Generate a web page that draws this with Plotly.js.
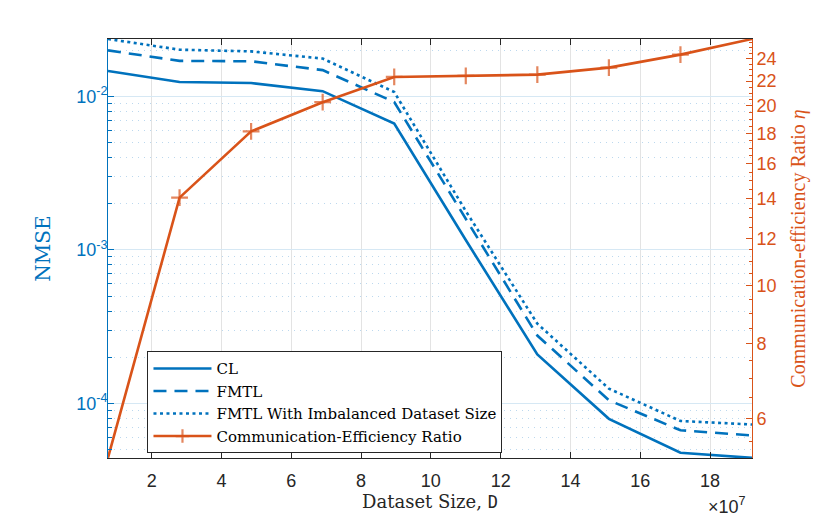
<!DOCTYPE html>
<html>
<head>
<meta charset="utf-8">
<script src="https://cdn.plot.ly/plotly-3.0.1.min.js"></script>
<style>
  html, body { margin: 0; padding: 0; background: #fff; }
  #chart { width: 830px; height: 522px; }
</style>
</head>
<body>
<div id="chart"></div>
<script>
// dataset size, in units of 1e7
const datasetSize = [0.75, 2.8, 4.85, 6.9, 8.95, 11, 13.05, 15.1, 17.15, 19.2];
const nmseCL = [0.0146, 0.0124, 0.0122, 0.0108, 0.00664, 0.00116, 2.09e-4, 7.95e-5, 4.78e-5, 4.43e-5];
const nmseFMTL = [0.0199, 0.0170, 0.0169, 0.0148, 0.00918, 0.00161, 2.77e-4, 1.05e-4, 6.7e-5, 6.2e-5];
const nmseFMTLImb = [0.0236, 0.0201, 0.0196, 0.0176, 0.01066, 0.00179, 3.31e-4, 1.25e-4, 7.7e-5, 7.3e-5];
const commRatio = [5.16, 14.05, 18.13, 20.29, 22.36, 22.45, 22.56, 23.18, 24.37, 25.88];

const xTicks = [2, 4, 6, 8, 10, 12, 14, 16, 18];
const leftTicks = [1e-4, 1e-3, 1e-2];
const leftTickText = ["10<sup>-4</sup>", "10<sup>-3</sup>", "10<sup>-2</sup>"];
const rightTicks = [6, 8, 10, 12, 14, 16, 18, 20, 22, 24];

const BLUE = "#0072BD";
const ORANGE = "#D95319";
const DARK = "#262626";
const SERIF = "'DejaVu Serif', serif";
const TIMES = "'Liberation Serif', serif";
const SANS = "'Liberation Sans', Arial, sans-serif";

// minor ticks for the log axes
const leftMinor = [];
[-5, -4, -3, -2].forEach((e) => {
  for (let k = 2; k <= 9; k++) leftMinor.push(k * Math.pow(10, e));
});
const rightMinor = [];
for (let v = 5; v <= 26; v += 0.5) if (!rightTicks.includes(v)) rightMinor.push(v);

const markerSizes = datasetSize.map((_, i) => (i === 0 || i === datasetSize.length - 1 ? 0 : 12));

const traces = [
  { x: datasetSize, y: nmseCL, name: "CL", type: "scatter", mode: "lines",
    line: { color: BLUE, width: 2.6 } },
  { x: datasetSize, y: nmseFMTL, name: "FMTL", type: "scatter", mode: "lines",
    line: { color: BLUE, width: 2.6, dash: "13px,8px" } },
  { x: datasetSize, y: nmseFMTLImb, name: "FMTL With Imbalanced Dataset Size", type: "scatter", mode: "lines",
    line: { color: BLUE, width: 2.6, dash: "3px,3.5px" } },
  { x: datasetSize, y: commRatio, name: "Communication-Efficiency Ratio", type: "scatter", mode: "lines+markers",
    yaxis: "y2",
    line: { color: ORANGE, width: 2.6 },
    marker: { symbol: "cross-thin-open", size: markerSizes, color: ORANGE, line: { color: ORANGE, width: 2.2 } } },
];

const layout = {
  width: 830,
  height: 522,
  margin: { l: 107.5, r: 78.3, t: 38.7, b: 64.3 },
  paper_bgcolor: "#fff",
  plot_bgcolor: "#fff",
  showlegend: true,
  legend: {
    x: 0.0613, y: 0.2547, xanchor: "left", yanchor: "top",
    bgcolor: "#fff", bordercolor: DARK, borderwidth: 1,
    font: { family: SERIF, size: 15, color: "#000" },
    itemwidth: 58,
    tracegroupgap: 0,
  },
  xaxis: {
    range: [0.75, 19.2],
    tickvals: xTicks,
    ticks: "inside", ticklen: 6, tickcolor: DARK,
    showline: true, linecolor: DARK, linewidth: 1, mirror: "ticks",
    showgrid: true, gridcolor: "#e3e3e3", gridwidth: 1,
    zeroline: false,
    tickfont: { family: SANS, size: 18, color: DARK },
    ticklabelstandoff: 6,
    title: { text: "Dataset Size, <span style=\"font-family:'DejaVu Sans Mono', monospace; font-size:17px\">D</span>",
      font: { family: SERIF, size: 18, color: DARK }, standoff: 2 },
  },
  yaxis: {
    type: "log",
    range: [Math.log10(4.42e-5), Math.log10(0.0236)],
    tickmode: "array", tickvals: leftTicks, ticktext: leftTickText,
    ticks: "inside", ticklen: 6, tickcolor: BLUE,
    showline: true, linecolor: BLUE, linewidth: 1,
    showgrid: true, gridcolor: "#d6e8f4", gridwidth: 1,
    zeroline: false,
    tickfont: { family: SANS, size: 18, color: BLUE },
    ticklabelstandoff: -4,
    minor: { tickmode: "array", tickvals: leftMinor, ticks: "inside", ticklen: 3.5, tickcolor: BLUE,
      showgrid: true, gridcolor: "#bcd8ee", griddash: "1px,5px", gridwidth: 1 },
    title: { text: "NMSE", font: { family: SERIF, size: 20, color: BLUE }, standoff: 20 },
  },
  yaxis2: {
    type: "log",
    overlaying: "y",
    side: "right",
    range: [Math.log10(5.155), Math.log10(25.88)],
    tickmode: "array", tickvals: rightTicks, ticktext: rightTicks.map(String),
    ticks: "inside", ticklen: 6, tickcolor: ORANGE,
    showline: true, linecolor: ORANGE, linewidth: 1,
    showgrid: false, zeroline: false,
    tickfont: { family: SANS, size: 18, color: ORANGE },
    minor: { tickmode: "array", tickvals: rightMinor, ticks: "inside", ticklen: 3.5, tickcolor: ORANGE, showgrid: false },
    title: { text: "Communication-efficiency Ratio <i>η</i>", font: { family: TIMES, size: 20, color: ORANGE }, standoff: 15 },
  },
  annotations: [
    { xref: "paper", yref: "paper", x: 0.9943, y: -0.113, xanchor: "right", yanchor: "middle",
      text: "×10<sup>7</sup>", showarrow: false, font: { family: SANS, size: 18, color: DARK } },
  ],
};

Plotly.newPlot("chart", traces, layout, { displayModeBar: false, staticPlot: true });
</script>
</body>
</html>
